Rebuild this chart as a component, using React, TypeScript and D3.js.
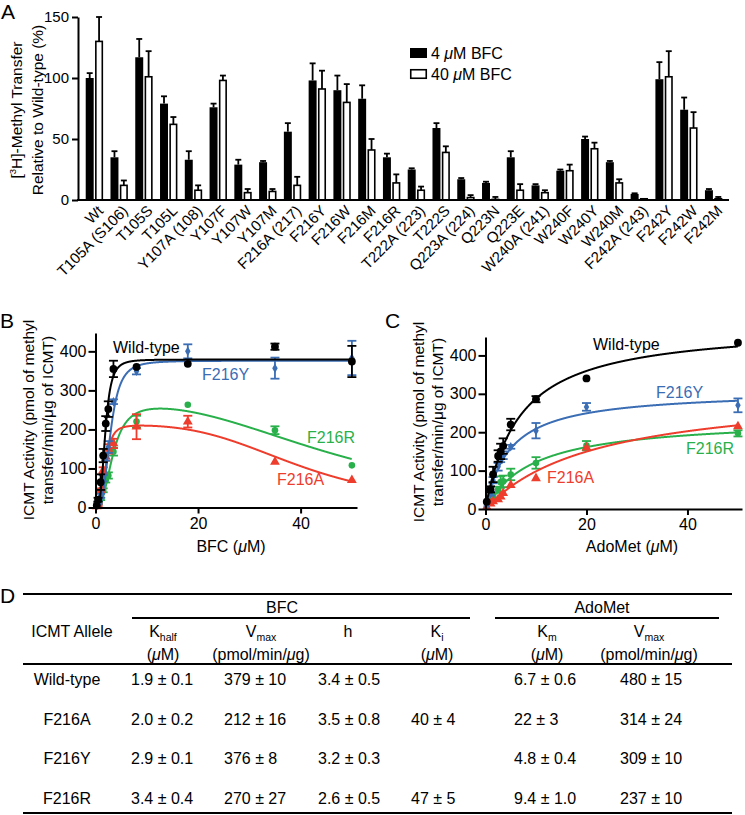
import React, { useEffect, useRef } from "react";
import * as d3 from "d3";

const W = 745, H = 815;
const FONT = "'Liberation Sans', Arial, Helvetica, sans-serif";

// ---- panel A : methyl transfer relative to wild-type (%)
const mutants = ["Wt", "T105A (S106)", "T105S", "T105L", "Y107A (108)", "Y107F", "Y107W", "Y107M",
  "F216A (217)", "F216Y", "F216W", "F216M", "F216R", "T222A (223)", "T222S", "Q223A (224)",
  "Q223N", "Q223E", "W240A (241)", "W240F", "W240Y", "W240M", "F242A (243)", "F242Y", "F242W", "F242M"];
const bfc4 = [100, 35, 117, 79, 33, 76, 29, 31, 56, 98, 90, 83, 35, 25, 59, 17, 14, 35, 12, 24, 50, 31, 5, 99, 74, 8];
const bfc4Err = [4, 5, 15, 6, 7, 3, 4, 1, 7, 14, 12, 11, 3, 1, 4, 1, 1, 5, 1, 1, 2, 1, 0.5, 14, 10, 1];
const bfc40 = [130, 12, 101, 62, 8, 98, 6, 7, 12, 91, 80, 41, 14, 8, 39, 2, 0.5, 8, 6, 24, 42, 14, 1, 101, 59, 1];
const bfc40Err = [20, 4, 21, 6, 4, 4, 3, 2, 7, 15, 15, 9, 7, 3, 5, 2, 2, 5, 2, 5, 5, 3, 0, 21, 13, 1.5];
const pctTicks = [0, 50, 100, 150];

// ---- panel D : kinetic constants (also drive the fitted curves in B and C)
const alleles = ["Wild-type", "F216A", "F216Y", "F216R"];
const alleleColors = ["#000000", "#ee3d2c", "#3a6db4", "#29b04b"];
const kHalf = [1.9, 2.0, 2.9, 3.4];
const kHalfErr = [0.1, 0.2, 0.1, 0.4];
const vmaxBfc = [379, 212, 376, 270];
const vmaxBfcErr = [10, 16, 8, 27];
const hill = [3.4, 3.5, 3.2, 2.6];
const hillErr = [0.5, 0.8, 0.3, 0.5];
const kI = [null, 40, null, 47];
const kIErr = [null, 4, null, 5];
const kM = [6.7, 22, 4.8, 9.4];
const kMErr = [0.6, 3, 0.4, 1.0];
const kMDigits = [1, 0, 1, 1];
const vmaxAdo = [480, 314, 309, 237];
const vmaxAdoErr = [15, 24, 10, 10];

// ---- panel B : activity vs BFC
const bfcConc = [0.25, 0.5, 1, 1.5, 2, 2.5, 3.5, 8, 18, 35, 50];
const bfcWt = [5, 20, 65, 133, 215, 252, 355, 360, 368, 412, 374];
const bfcWtErr = [0, 5, 20, 17, 19, 20, 21, 0, 0, 8, 40];
const bfcF216A = [3, 8, 44, 95, 130, 150, 164, 207, 220, 117, 70];
const bfcF216AErr = [0, 2, 5, 8, 10, 12, 12, 32, 15, 0, 0];
const bfcF216Y = [5, 12, 30, 75, 130, 155, 271, 349, 400, 357, 383];
const bfcF216YErr = [0, 3, 5, 8, 10, 15, 6, 8, 18, 27, 44];
const bfcF216R = [4, 10, 22, 44, 70, 82, 143, 220, 263, 198, 108];
const bfcF216RErr = [0, 2, 3, 5, 6, 8, 10, 15, 0, 10, 0];

// ---- panel C : activity vs AdoMet
const adoConc = [0.25, 1, 1.5, 2.5, 3, 3.5, 5, 10, 20, 50];
const adoWt = [19, 51, 90, 138, 150, 164, 220, 286, 340, 433];
const adoWtErr = [0, 8, 20, 15, 20, 20, 15, 8, 0, 0];
const adoF216A = [5, 14, 20, 25, 32, 41, 62, 80, 160, 215];
const adoF216AErr = [0, 0, 0, 0, 0, 0, 0, 0, 0, 0];
const adoF216Y = [8, 40, 75, 110, 132, 140, 162, 204, 266, 270];
const adoF216YErr = [0, 5, 8, 10, 10, 10, 5, 20, 10, 18];
const adoF216R = [6, 25, 35, 50, 70, 72, 90, 120, 165, 197];
const adoF216RErr = [0, 3, 5, 8, 15, 15, 15, 15, 12, 8];

const activityTicks = [0, 100, 200, 300, 400];
const concTicks = [0, 20, 40];

type Part = [string, any?];
function rich(g: any, x: number, y: number, parts: Part[], size: number, anchor = "start", fill = "#000") {
  const t = g.append("text").attr("x", x).attr("y", y).attr("font-size", size)
    .attr("font-family", FONT).attr("text-anchor", anchor).attr("fill", fill);
  parts.forEach(([s, o]) => {
    const sp = t.append("tspan").text(s);
    if (o) Object.keys(o).forEach(k => sp.attr(k, o[k]));
  });
  return t;
}

function styleAxis(g: any, size: number) {
  g.attr("font-family", FONT).attr("font-size", size);
  g.select(".domain").attr("stroke-width", 2);
  g.selectAll(".tick line").attr("stroke-width", 2);
  g.selectAll(".tick text").attr("fill", "#000");
}

export default function App() {
  const ref = useRef<SVGSVGElement>(null);

  useEffect(() => {
    const svg = d3.select(ref.current);
    svg.selectAll("*").remove();
    drawBars(svg);
    drawKinetics(svg, "B");
    drawKinetics(svg, "C");
    drawTable(svg);
  }, []);

  const drawBars = (svg: any) => {
    const g = svg.append("g");
    const x0 = d3.scaleBand().domain(mutants).range([82, 726]).paddingInner(0.3).paddingOuter(0.15);
    const x1 = d3.scaleBand().domain(["4", "40"]).range([0, x0.bandwidth()]).paddingInner(0.15);
    const y = d3.scaleLinear().domain([0, 150]).range([200, 17]);

    const groups = mutants.map((m, i) => ({ m, i }));
    const bw = x1.bandwidth();
    [["4", bfc4, bfc4Err], ["40", bfc40, bfc40Err]].forEach(([key, vals, errs]: any) => {
      const gg = g.append("g");
      groups.forEach(({ m, i }) => {
        const bx = x0(m)! + x1(key)!;
        const v = vals[i], e = errs[i];
        // error bar (upper only)
        if (e > 0) {
          gg.append("line").attr("x1", bx + bw / 2).attr("x2", bx + bw / 2)
            .attr("y1", y(v)).attr("y2", y(v + e)).attr("stroke", "#000").attr("stroke-width", 1.8);
          gg.append("line").attr("x1", bx + 1).attr("x2", bx + bw - 1)
            .attr("y1", y(v + e)).attr("y2", y(v + e)).attr("stroke", "#000").attr("stroke-width", 1.8);
        }
        if (key === "4") {
          gg.append("rect").attr("x", bx).attr("y", y(v)).attr("width", bw).attr("height", y(0) - y(v)).attr("fill", "#000");
        } else {
          gg.append("rect").attr("x", bx + 0.75).attr("y", y(v)).attr("width", bw - 1.5)
            .attr("height", Math.max(0, y(0) - y(v))).attr("fill", "#fff").attr("stroke", "#000").attr("stroke-width", 1.6);
        }
      });
    });

    // baseline
    g.append("line").attr("x1", 77).attr("x2", 729).attr("y1", y(0)).attr("y2", y(0)).attr("stroke", "#000").attr("stroke-width", 2);
    const ya = g.append("g").attr("transform", "translate(78,0)")
      .call(d3.axisLeft(y).tickValues(pctTicks).tickSize(6).tickPadding(3).tickSizeOuter(0));
    styleAxis(ya, 15);

    // category labels
    g.append("g").selectAll("text").data(mutants).enter().append("text")
      .attr("transform", (d: string) => `translate(${x0(d)! + x0.bandwidth() / 2 + 6},${208}) rotate(-45)`)
      .attr("text-anchor", "end").attr("dy", "0.35em")
      .attr("font-family", FONT).attr("font-size", 15).text((d: string) => d);

    // y title
    const t1 = g.append("g").attr("transform", "translate(17,110) rotate(-90)");
    rich(t1, 0, 0, [["["], ["3", { "font-size": 9.5, dy: -6 }], ["H]-Methyl Transfer", { dy: 6 }]], 15.5, "middle").attr("dy", "0.35em");
    const t2 = g.append("g").attr("transform", "translate(38,110) rotate(-90)");
    rich(t2, 0, 0, [["Relative to Wild-type (%)"]], 15.5, "middle").attr("dy", "0.35em");

    // legend
    g.append("rect").attr("x", 410).attr("y", 48).attr("width", 17).attr("height", 10).attr("fill", "#000");
    g.append("rect").attr("x", 410.75).attr("y", 69.75).attr("width", 15.5).attr("height", 8.5).attr("fill", "#fff")
      .attr("stroke", "#000").attr("stroke-width", 1.6);
    rich(g, 431, 59, [["4 "], ["\u03bc", { "font-style": "italic" }], ["M BFC"]], 16);
    rich(g, 431, 80, [["40 "], ["\u03bc", { "font-style": "italic" }], ["M BFC"]], 16);

    g.append("text").attr("x", 1).attr("y", 19).attr("font-family", FONT).attr("font-size", 21).text("A");
  };

  const drawKinetics = (svg: any, panel: "B" | "C") => {
    const g = svg.append("g");
    const isB = panel === "B";
    const x = isB ? d3.scaleLinear().domain([0, 51]).range([95.5, 357])
      : d3.scaleLinear().domain([0, 50.8]).range([485.5, 742]);
    const y = isB ? d3.scaleLinear().domain([0, 447]).range([507.5, 333])
      : d3.scaleLinear().domain([0, 448]).range([509, 337]);
    const conc = isB ? bfcConc : adoConc;
    const vals = isB ? [bfcWt, bfcF216A, bfcF216Y, bfcF216R] : [adoWt, adoF216A, adoF216Y, adoF216R];
    const errs = isB ? [bfcWtErr, bfcF216AErr, bfcF216YErr, bfcF216RErr] : [adoWtErr, adoF216AErr, adoF216YErr, adoF216RErr];

    // fitted model from the table constants
    const model = (i: number, s: number) => {
      if (isB) {
        const inh = kI[i] ? Math.pow(s / (kI[i] as number), hill[i]) : 0;
        return vmaxBfc[i] / (1 + Math.pow(kHalf[i] / s, hill[i]) + inh);
      }
      return vmaxAdo[i] * s / (kM[i] + s);
    };
    const xs = d3.range(0.02, 50.01, 0.05);
    const line = d3.line<number>().x(d => d[0]).y(d => d[1]) as any;
    const symbols = [d3.symbolCircle, d3.symbolTriangle, d3.symbolDiamond, d3.symbolCircle];
    const sizes = [48, 42, 26, 34];
    const order = [3, 1, 2, 0];

    order.forEach(i => {
      const col = alleleColors[i];
      const s = g.append("g");
      s.append("path").datum(xs.map(v => [x(v), y(model(i, v))])).attr("d", line)
        .attr("fill", "none").attr("stroke", col).attr("stroke-width", 2);
      conc.forEach((c, k) => {
        const v = vals[i][k], e = errs[i][k];
        if (e > 0) {
          s.append("line").attr("x1", x(c)).attr("x2", x(c)).attr("y1", y(v - e)).attr("y2", y(v + e))
            .attr("stroke", col).attr("stroke-width", 1.8);
          [v - e, v + e].forEach(b => s.append("line").attr("x1", x(c) - 4.5).attr("x2", x(c) + 4.5)
            .attr("y1", y(b)).attr("y2", y(b)).attr("stroke", col).attr("stroke-width", 1.8));
        }
        s.append("path").attr("d", d3.symbol().type(symbols[i]).size(sizes[i])())
          .attr("transform", `translate(${x(c)},${y(v)})`).attr("fill", col);
      });
    });

    const xa = g.append("g").attr("transform", `translate(0,${y(0)})`)
      .call(d3.axisBottom(x).tickValues(concTicks).tickSize(6).tickPadding(4).tickSizeOuter(0));
    styleAxis(xa, 16);
    const ya = g.append("g").attr("transform", `translate(${x(0)},0)`)
      .call(d3.axisLeft(y).tickValues(activityTicks).tickSize(7).tickPadding(2).tickSizeOuter(0));
    styleAxis(ya, 16);

    const ax = x(0);
    const yc = isB ? 420 : 422;
    const l1 = g.append("g").attr("transform", `translate(${ax - 67},${yc}) rotate(-90)`);
    rich(l1, 0, 0, [["ICMT Activity (pmol of methyl"]], 15.5, "middle").attr("dy", "0.35em");
    const l2 = g.append("g").attr("transform", `translate(${ax - 48},${yc}) rotate(-90)`);
    rich(l2, 0, 0, [["transfer/min/\u03bcg of ICMT)"]], 15.5, "middle").attr("dy", "0.35em");

    rich(g, isB ? 231 : 632, 552, [[isB ? "BFC (" : "AdoMet ("], ["\u03bc", { "font-style": "italic" }], ["M)"]], 16, "middle");
    g.append("text").attr("x", isB ? 0 : 385).attr("y", 328).attr("font-family", FONT).attr("font-size", 21).text(panel);

    const labelPos = isB
      ? [[113, 353], [277, 485], [202, 380], [307, 443]]
      : [[593, 350], [547, 483], [656, 398], [686, 454]];
    alleles.forEach((a, i) => {
      g.append("text").attr("x", labelPos[i][0]).attr("y", labelPos[i][1]).attr("font-family", FONT)
        .attr("font-size", 16).attr("fill", alleleColors[i]).text(a);
    });
  };

  const drawTable = (svg: any) => {
    const g = svg.append("g");
    const rule = (x1: number, x2: number, yy: number) =>
      g.append("line").attr("x1", x1).attr("x2", x2).attr("y1", yy).attr("y2", yy).attr("stroke", "#000").attr("stroke-width", 2);
    rule(23, 732, 594);
    rule(132, 470, 618);
    rule(495, 719, 618);
    rule(23, 732, 664);
    rule(23, 732, 813);
    g.append("text").attr("x", 0).attr("y", 603).attr("font-family", FONT).attr("font-size", 21).text("D");

    rich(g, 282, 613, [["BFC"]], 16, "middle");
    rich(g, 602, 613, [["AdoMet"]], 16, "middle");
    rich(g, 72, 637, [["ICMT Allele"]], 16, "middle");
    const mu: Part[] = [["("], ["\u03bc", { "font-style": "italic" }], ["M)"]];
    const unit: Part[] = [["(pmol/min/"], ["\u03bc", { "font-style": "italic" }], ["g)"]];
    const sub = (s: string): Part => [s, { "font-size": 10.5, dy: 4 }];
    rich(g, 163, 637, [["K"], sub("half")], 16, "middle");
    rich(g, 163, 660, mu, 16, "middle");
    rich(g, 261, 637, [["V"], sub("max")], 16, "middle");
    rich(g, 261, 660, unit, 16, "middle");
    rich(g, 348, 637, [["h"]], 16, "middle");
    rich(g, 437, 637, [["K"], sub("i")], 16, "middle");
    rich(g, 437, 660, mu, 16, "middle");
    rich(g, 547, 637, [["K"], sub("m")], 16, "middle");
    rich(g, 547, 660, mu, 16, "middle");
    rich(g, 649, 637, [["V"], sub("max")], 16, "middle");
    rich(g, 649, 660, unit, 16, "middle");

    const rowY = [685, 725, 764, 804];
    const pm = (v: number, e: number, d: number) => `${v.toFixed(d)} \u00b1 ${e.toFixed(d)}`;
    alleles.forEach((a, i) => {
      const yy = rowY[i];
      rich(g, 67, yy, [[a]], 16, "middle");
      rich(g, 131, yy, [[pm(kHalf[i], kHalfErr[i], 1)]], 16);
      rich(g, 224, yy, [[pm(vmaxBfc[i], vmaxBfcErr[i], 0)]], 16);
      rich(g, 318, yy, [[pm(hill[i], hillErr[i], 1)]], 16);
      if (kI[i] !== null) rich(g, 411, yy, [[pm(kI[i] as number, kIErr[i] as number, 0)]], 16);
      rich(g, 514, yy, [[pm(kM[i], kMErr[i], kMDigits[i])]], 16);
      rich(g, 620, yy, [[pm(vmaxAdo[i], vmaxAdoErr[i], 0)]], 16);
    });
  };

  return <svg ref={ref} width={W} height={H} style={{ position: "absolute", left: 0, top: 0, background: "#fff" }} />;
}
